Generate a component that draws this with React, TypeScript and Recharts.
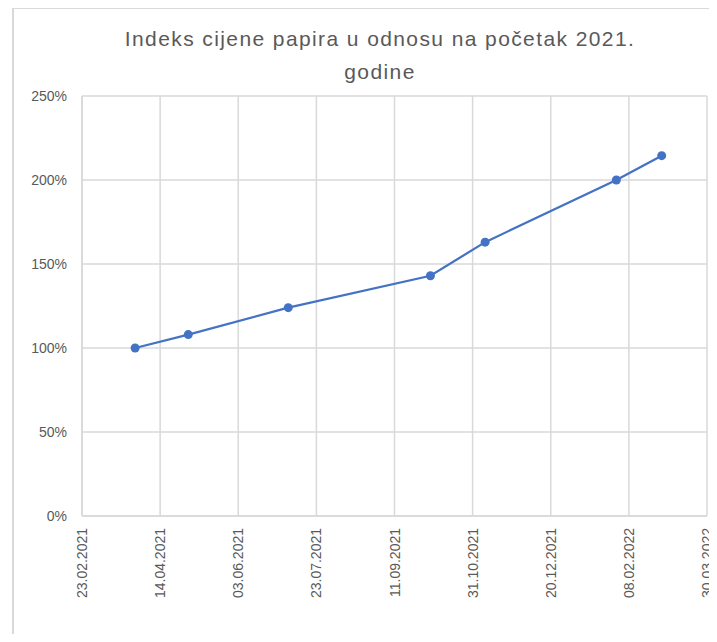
import React from "react";
import { LineChart, Line, XAxis, YAxis, CartesianGrid } from "recharts";

// observation dates (dd.mm.yyyy) and index values in %
const dates = ["29.03.2021", "02.05.2021", "05.07.2021", "04.10.2021", "08.11.2021", "31.01.2022", "01.03.2022"];
const values = [100, 108, 124, 143, 163, 200, 214.5];

const startDate = "23.02.2021";
const xTicks = [0, 50, 100, 150, 200, 250, 300, 350, 400];
const yTicks = [0, 50, 100, 150, 200, 250];

const DAY = 86400000;

function parseDate(s: string) {
    const [d, m, y] = s.split(".").map(Number);
    return Date.UTC(y, m - 1, d);
}

const base = parseDate(startDate);

function formatDay(offset: number) {
    const dt = new Date(base + offset * DAY);
    const dd = String(dt.getUTCDate()).padStart(2, "0");
    const mm = String(dt.getUTCMonth() + 1).padStart(2, "0");
    return `${dd}.${mm}.${dt.getUTCFullYear()}`;
}

const data = dates.map((d, i) => ({
    day: (parseDate(d) - base) / DAY,
    value: values[i],
}));

const font = "'Liberation Sans', Arial, sans-serif";
const textColor = "#595959";
const gridColor = "#d9d9d9";

function DateTick(props: any) {
    const { x, y, payload } = props;
    return (
        <g transform={`translate(${x},${y})`}>
            <text
                transform="rotate(-90)"
                x={-12}
                dy={5}
                textAnchor="end"
                fill={textColor}
                fontSize={14}
                fontFamily={font}
            >
                {formatDay(payload.value)}
            </text>
        </g>
    );
}

export default function App() {
    return (
        <div style={{ position: "relative", width: 717, height: 642, margin: -8, background: "#fff", overflow: "hidden" }}>
            <div
                style={{
                    position: "absolute",
                    left: 12,
                    top: 7,
                    right: 0,
                    bottom: 0,
                    borderTop: `2px solid ${gridColor}`,
                    borderLeft: `2px solid ${gridColor}`,
                }}
            />
            <div
                style={{
                    position: "absolute",
                    left: 0,
                    width: 760,
                    top: 22,
                    textAlign: "center",
                    fontFamily: font,
                    fontSize: 21,
                    letterSpacing: 1.4,
                    lineHeight: "33px",
                    color: textColor,
                }}
            >
                Indeks cijene papira u odnosu na početak 2021.
                <br />
                godine
            </div>
            <LineChart
                width={717}
                height={642}
                data={data}
                margin={{ top: 96, right: 10, bottom: 0, left: 0 }}
                style={{ position: "absolute", left: 0, top: 0 }}
            >
                <CartesianGrid stroke={gridColor} strokeWidth={1.5} ticks={xTicks} />
                <XAxis
                    dataKey="day"
                    type="number"
                    domain={[0, 400]}
                    ticks={xTicks}
                    interval={0}
                    tick={<DateTick />}
                    tickSize={0}
                    tickMargin={0}
                    tickLine={false}
                    axisLine={{ stroke: gridColor, strokeWidth: 1.5 }}
                    height={126}
                />
                <YAxis
                    type="number"
                    domain={[0, 250]}
                    ticks={yTicks}
                    interval={0}
                    width={82}
                    tickSize={0}
                    tickMargin={15}
                    tickLine={false}
                    axisLine={{ stroke: gridColor, strokeWidth: 1.5 }}
                    tickFormatter={(v) => `${v}%`}
                    tick={{ fill: textColor, fontSize: 14, fontFamily: font }}
                />
                <Line
                    type="linear"
                    dataKey="value"
                    stroke="#4472C4"
                    strokeWidth={2.25}
                    dot={{ r: 4.5, fill: "#4472C4", stroke: "#4472C4", strokeWidth: 0 }}
                    activeDot={false}
                    isAnimationActive={false}
                />
            </LineChart>
        </div>
    );
}
